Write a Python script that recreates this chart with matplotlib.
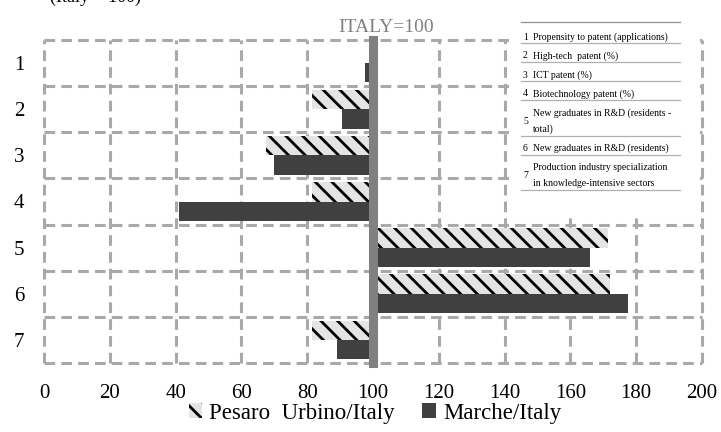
import numpy as np
import matplotlib.pyplot as plt
from matplotlib.patches import Patch

plt.rcParams['font.family'] = ['Liberation Serif', 'DejaVu Serif']
plt.rcParams['hatch.linewidth'] = 2.0

# data (Italy = 100)
indicators = ['1', '2', '3', '4', '5', '6', '7']
pesaro = [100, 81.5, 67.5, 81.5, 171.5, 172, 81.5]
marche = [97.5, 90.5, 70, 41, 166, 177.5, 89]
descriptions = [
    ('1', ['Propensity to patent (applications)']),
    ('2', ['High-tech  patent (%)']),
    ('3', ['ICT patent (%)']),
    ('4', ['Biotechnology patent (%)']),
    ('5', ['New graduates in R&D (residents -', 'total)']),
    ('6', ['New graduates in R&D (residents)']),
    ('7', ['Production industry specialization', 'in knowledge-intensive sectors']),
]
base = 100

W, H = 721, 432
fig = plt.figure(figsize=(W / 100, H / 100), dpi=100)
ax = fig.add_axes([44 / W, 1 - 363 / H, (702 - 44) / W, (363 - 40) / H])

y = np.arange(1, len(indicators) + 1)
h = 0.42
ax.barh(y - 0.21, np.array(pesaro) - base, left=base, height=h,
        color='#e4e4e4', edgecolor='black', linewidth=0, hatch=r'\\', zorder=3)
ax.barh(y + 0.21, np.array(marche) - base, left=base, height=h,
        color='#404040', linewidth=0, zorder=3)

# Italy reference line
ax.axvline(base, color='#808080', linewidth=6.5, zorder=4, clip_on=False)

ax.set_xlim(0, 200)
ax.set_ylim(len(indicators) + 0.5, 0.5)
ax.set_xticks(np.arange(0, 201, 20))
ax.set_yticks(y)
ax.set_yticklabels(indicators)
ax.set_yticks(np.arange(0.5, len(indicators) + 1), minor=True)
ax.tick_params(axis='both', which='both', length=0, labelsize=15)
ax.tick_params(axis='x', pad=15)
ax.tick_params(axis='y', pad=14)
for s in ax.spines.values():
    s.set_visible(False)

ax.grid(True, axis='x', which='major', color='#a9a9a9', linestyle=(0, (3.5, 2)), linewidth=2.2)
ax.grid(True, axis='y', which='minor', color='#a9a9a9', linestyle=(0, (3.5, 2)), linewidth=2.2)
ax.set_axisbelow(True)
for t in ax.xaxis.get_major_ticks() + ax.yaxis.get_minor_ticks():
    t.gridline.set_clip_on(False)

fig.text(338 / W, 1 - 32 / H, 'ITALY=100', color='#808080', fontsize=14,
         ha='left', va='baseline')
fig.text(50 / W, 1 - 2 / H, '(Italy = 100)', color='black', fontsize=13,
         ha='left', va='baseline')

# description box
bx = fig.add_axes([510 / W, 1 - 215 / H, 187 / W, 195 / H])
bx.set_xlim(510, 697)
bx.set_ylim(215, 20)
bx.set_facecolor('white')
bx.set_xticks([])
bx.set_yticks([])
for s in bx.spines.values():
    s.set_visible(False)
bx.plot([521, 680], [22.5, 22.5], color='#909090', linewidth=0.9)
yy = 31
for num, lines in descriptions:
    n = len(lines)
    for k, t in enumerate(lines):
        bx.text(533, yy + 6 + k * 16.5, t, fontsize=7, ha='left', va='center')
    bx.text(523, yy + 6 + (n - 1) * 8.25, num, fontsize=7, ha='left', va='center')
    yy = yy + 6 + (n - 1) * 16.5 + 6.5
    bx.plot([521, 680], [yy, yy], color='#b0b0b0', linewidth=0.9)
    yy += 6.5

handles = [Patch(facecolor='#e4e4e4', edgecolor='black', linewidth=0, hatch=r'\\'),
           Patch(facecolor='#404040', linewidth=0)]
fig.legend(handles, ['Pesaro  Urbino/Italy', 'Marche/Italy'], loc='center',
           bbox_to_anchor=(375 / W, 1 - 413 / H), ncol=2, frameon=False,
           fontsize=16.5, handlelength=0.6, handleheight=0.6, handletextpad=0.3,
           columnspacing=1.2)

fig.savefig('out.png', dpi=100)
